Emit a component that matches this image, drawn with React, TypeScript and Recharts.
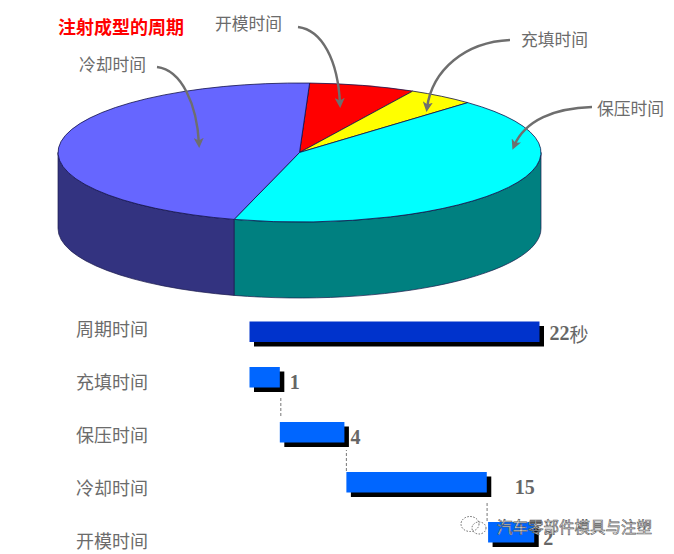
import { PieChart, Pie, BarChart, Bar, XAxis, YAxis } from "recharts"

const FONT = "'Noto Sans CJK SC', sans-serif"
const NUM_FONT = "'Liberation Serif', serif"

// pie: share of the cycle as drawn, clockwise from the top
const phaseNames = ["开模时间", "充填时间", "保压时间", "冷却时间"]
const phaseShares = [7.1, 4.5, 42.1, 46.3]
const phaseTops = ["#ff0000", "#ffff00", "#00ffff", "#6666ff"]
const phaseWalls = ["#800000", "#808000", "#008080", "#333380"]

// gantt rows, in seconds on the axis
const rowNames = ["周期时间", "充填时间", "保压时间", "冷却时间", "开模时间"]
const rowStart = [0, 0, 2.3, 7.35, 18.1]
const rowEnd = [22, 2.3, 7.2, 18, 21.6]
const rowLabels = ["22", "1", "4", "15", "2"]

const pieData = phaseNames.map((name, i) => ({ name, value: phaseShares[i] }))
const rowData = rowNames.map((name, i) => ({ name, range: [rowStart[i], rowEnd[i]] }))

// 3d pie look
const TILT = 69.5 / 241.5
const DEPTH = 76

function Slice3D(props: any) {
  const { cx, cy, outerRadius, startAngle, endAngle, index } = props
  const rx = outerRadius
  const ry = outerRadius * TILT
  const pt = (a: number, dy = 0) => {
    const r = (a * Math.PI) / 180
    return `${cx + rx * Math.cos(r)} ${cy - ry * Math.sin(r) + dy}`
  }
  const hi = Math.max(startAngle, endAngle)
  const lo = Math.min(startAngle, endAngle)
  const large = hi - lo > 180 ? 1 : 0
  const top = `M${cx} ${cy} L${pt(hi)} A${rx} ${ry} 0 ${large} 1 ${pt(lo)} Z`

  // only the front half of the rim shows
  const wallHi = Math.min(hi, 0)
  const wallLo = Math.max(lo, -180)
  const wall =
    wallHi > wallLo
      ? `M${pt(wallHi)} A${rx} ${ry} 0 0 1 ${pt(wallLo)} L${pt(wallLo, DEPTH)} A${rx} ${ry} 0 0 0 ${pt(wallHi, DEPTH)} Z`
      : null

  return (
    <g>
      {wall && <path d={wall} fill={phaseWalls[index]} stroke="#1a1a4a" strokeWidth={0.7} />}
      <path d={top} fill={phaseTops[index]} stroke="#10104a" strokeWidth={0.8} />
    </g>
  )
}

const labelNudge = [-3.5, -0.5, 2.5, 5, 8]
const barNudge = [0, -4.5, 0.5, 0.5, 0.5]
const valueDx = [10, 10, 6, 28, 9]
const valueDy = [1.5, 5, 5, 5, 6]
const linkLen = [0, 0, 19, 21, 19]
const linkGap = [0, 0, 6, 1, 1]
const linkDx = [0, 0, 1, 0, -1]

function RowTick({ y, payload, index }: any) {
  return (
    <text x={76} y={y + labelNudge[index]} fontFamily={FONT} fontSize={18} fill="#6b6b6b" dominantBaseline="central">
      {payload.value}
    </text>
  )
}

function GanttBar({ x, y, width, height, index }: any) {
  const top = y + barNudge[index]
  return (
    <g>
      {linkLen[index] > 0 && (
        <line
          x1={x + linkDx[index]}
          x2={x + linkDx[index]}
          y1={top - linkGap[index]}
          y2={top - linkGap[index] - linkLen[index]}
          stroke="#777"
          strokeDasharray="3 2"
        />
      )}
      <rect x={x + 4.5} y={top + 4.5} width={width} height={height} fill="#000" />
      <rect x={x} y={top} width={width} height={height} fill={index === 0 ? "#0033cc" : "#0066ff"} />
      <text
        x={x + width + valueDx[index]}
        y={top + height / 2 + valueDy[index]}
        fontFamily={NUM_FONT}
        fontSize={20}
        fontWeight="bold"
        fill="#666"
        dominantBaseline="central"
      >
        {rowLabels[index]}
        {index === 0 && (
          <tspan fontFamily={FONT} fontWeight="normal" fontSize={19}>
            秒
          </tspan>
        )}
      </text>
    </g>
  )
}

// callouts around the pie
const calloutNames = ["开模时间", "冷却时间", "充填时间", "保压时间"]
const calloutX = [215, 79, 521, 597]
const calloutY = [23, 64, 39, 108]
const calloutPaths = [
  "M298 27 C322 30 338 60 340 104",
  "M157 67 C182 70 197 105 199 144",
  "M510 40 C465 42 432 70 427 108",
  "M592 107 C555 108 525 120 514 146",
]

export default function App() {
  return (
    <div style={{ position: "absolute", left: 0, top: 0, width: 674, height: 554, overflow: "hidden", background: "#fff" }}>
      <div style={{ position: "absolute", left: 0, top: 0 }}>
        <PieChart width={674} height={310} margin={{ top: 0, right: 0, bottom: 0, left: 0 }}>
          <Pie
            data={pieData}
            dataKey="value"
            cx={299.5}
            cy={152.5}
            outerRadius={241.5}
            startAngle={87.6}
            endAngle={-272.4}
            shape={Slice3D}
            isAnimationActive={false}
            stroke="none"
          />
        </PieChart>
      </div>

      <div style={{ position: "absolute", left: 0, top: 300 }}>
        <BarChart
          layout="vertical"
          width={674}
          height={260}
          data={rowData}
          margin={{ top: 6.5, right: 134.5, bottom: 3.5, left: 0 }}
        >
          <XAxis type="number" domain={[0, 22]} hide />
          <YAxis type="category" dataKey="name" width={249.5} axisLine={false} tickLine={false} tick={RowTick} interval={0} />
          <Bar dataKey="range" barSize={20.5} shape={GanttBar} isAnimationActive={false} />
        </BarChart>
      </div>

      <svg width={674} height={554} style={{ position: "absolute", left: 0, top: 0, pointerEvents: "none" }}>
        <defs>
          <marker id="head" viewBox="0 0 10 10" refX="6" refY="5" markerWidth="4.2" markerHeight="4.2" orient="auto">
            <path d="M0 0 L10 5 L0 10 L2.5 5 Z" fill="#6e6e6e" />
          </marker>
        </defs>
        <text x={58} y={26} fontFamily={FONT} fontSize={18} fontWeight="bold" fill="#ff0000" dominantBaseline="central">
          注射成型的周期
        </text>
        {calloutNames.map((name, i) => (
          <g key={name}>
            <text x={calloutX[i]} y={calloutY[i]} fontFamily={FONT} fontSize={16.8} fill="#6b6b6b" dominantBaseline="central">
              {name}
            </text>
            <path d={calloutPaths[i]} fill="none" stroke="#6e6e6e" strokeWidth={2.4} markerEnd="url(#head)" />
          </g>
        ))}
        <g fill="none" stroke="#666" strokeWidth={1} strokeDasharray="1.5 1.5">
          <ellipse cx={470} cy={524} rx={9} ry={7.5} />
          <ellipse cx={479} cy={528} rx={7} ry={6} />
        </g>
        <text
          x={497}
          y={525.5}
          fontFamily={FONT}
          fontSize={15.5}
          fill="#fff"
          stroke="#555"
          strokeWidth={0.6}
          dominantBaseline="central"
        >
          汽车零部件模具与注塑
        </text>
      </svg>
    </div>
  )
}
